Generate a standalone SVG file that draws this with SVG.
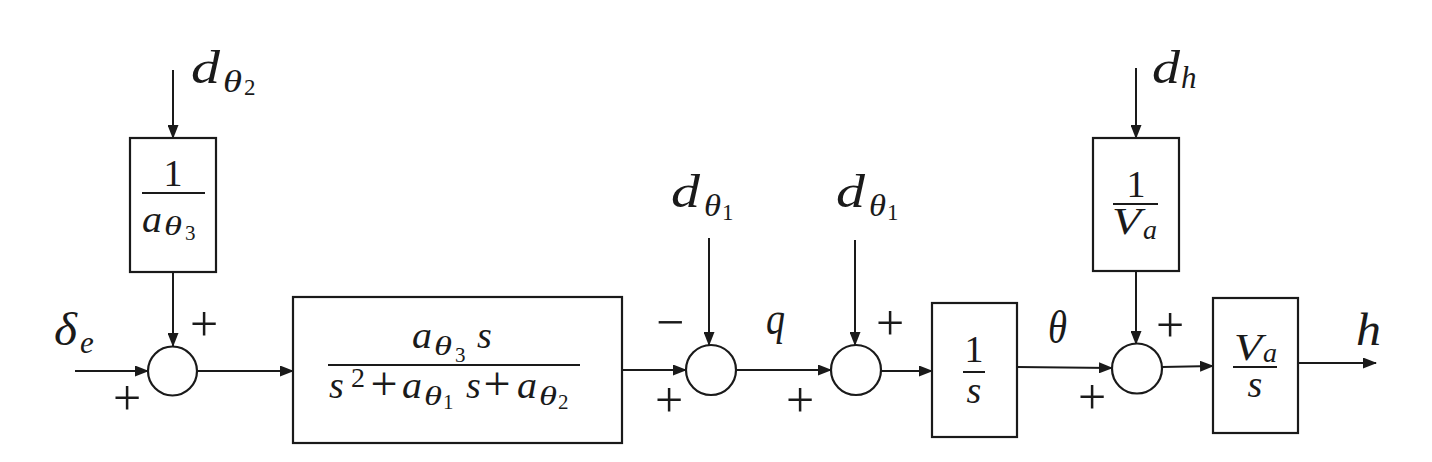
<svg xmlns="http://www.w3.org/2000/svg" width="1432" height="462" viewBox="0 0 1432 462">
<style>
.bg{fill:#fff}
.box{fill:#fff;stroke:#1a1a1a;stroke-width:2.2}
.sum{fill:#fff;stroke:#1a1a1a;stroke-width:2.2}
.frac{stroke:#1a1a1a;stroke-width:2}
.conn{stroke:#1a1a1a;stroke-width:2;fill:none;marker-end:url(#arr)}
text{font-family:"Liberation Serif","Times New Roman",serif;fill:#1a1a1a}
.it{font-style:italic}
.rm{font-style:normal}
.lbl{font-size:46px}
.sub{font-size:31px}
.ss{font-size:23px}
.fr{font-size:38px}
.fsub{font-size:28px}
.fss{font-size:21px}
.fp{font-size:48px;text-anchor:middle}
.sgn{font-size:50px;text-anchor:middle}
</style>
<defs>
<marker id="arr" markerUnits="userSpaceOnUse" markerWidth="14" markerHeight="11" refX="13" refY="5.5" orient="auto">
<path d="M0,0 L14,5.5 L0,11 z" fill="#1a1a1a"/>
</marker>
</defs>
<rect class="bg" x="0" y="0" width="1432" height="462"/>

<g id="connectors">
<line class="conn" x1="173" y1="70" x2="173" y2="138"/>
<line class="conn" x1="173" y1="272" x2="173" y2="346"/>
<line class="conn" x1="75" y1="371" x2="148" y2="371"/>
<line class="conn" x1="197" y1="371" x2="293" y2="371"/>
<line class="conn" x1="622" y1="370" x2="686" y2="370"/>
<line class="conn" x1="709" y1="238" x2="709" y2="345"/>
<line class="conn" x1="736" y1="370" x2="831" y2="370"/>
<line class="conn" x1="855" y1="240" x2="855" y2="345"/>
<line class="conn" x1="881" y1="371" x2="932" y2="371"/>
<line class="conn" x1="1017" y1="367" x2="1112" y2="368"/>
<line class="conn" x1="1136" y1="68" x2="1136" y2="138"/>
<line class="conn" x1="1136" y1="271" x2="1136" y2="344"/>
<line class="conn" x1="1162" y1="367" x2="1213" y2="366"/>
<line class="conn" x1="1298" y1="363" x2="1376" y2="363"/>
</g>

<g id="box-inv-a3">
<rect class="box" x="130" y="138" width="86" height="134"/>
<text class="fr rm" x="173" y="186" text-anchor="middle">1</text>
<line class="frac" x1="142" y1="193" x2="205" y2="193"/>
<text class="fr it" x="142" y="232" textLength="20" lengthAdjust="spacingAndGlyphs">a</text>
<text class="fsub it" x="164" y="235" textLength="18" lengthAdjust="spacingAndGlyphs">θ</text>
<text class="fss rm" x="185" y="240">3</text>
</g>

<g id="box-plant">
<rect class="box" x="293" y="297" width="329" height="146"/>
<text class="fr it" x="412" y="348" textLength="20" lengthAdjust="spacingAndGlyphs">a</text>
<text class="fsub it" x="434" y="355" textLength="18" lengthAdjust="spacingAndGlyphs">θ</text>
<text class="fss rm" x="455" y="362">3</text>
<text class="fr it" x="477" y="348">s</text>
<line class="frac" x1="328" y1="365" x2="580" y2="365"/>
<text class="fr it" x="329" y="398">s</text>
<text class="fsub rm" x="351" y="387">2</text>
<text class="fp rm" x="384" y="400">+</text>
<text class="fr it" x="402" y="398" textLength="20" lengthAdjust="spacingAndGlyphs">a</text>
<text class="fsub it" x="424" y="405" textLength="18" lengthAdjust="spacingAndGlyphs">θ</text>
<text class="fss rm" x="443" y="409">1</text>
<text class="fr it" x="466" y="398">s</text>
<text class="fp rm" x="497" y="400">+</text>
<text class="fr it" x="517" y="398" textLength="20" lengthAdjust="spacingAndGlyphs">a</text>
<text class="fsub it" x="539" y="405" textLength="18" lengthAdjust="spacingAndGlyphs">θ</text>
<text class="fss rm" x="558" y="409">2</text>
</g>

<g id="box-int">
<rect class="box" x="932" y="303" width="85" height="134"/>
<text class="fr rm" x="974" y="362" text-anchor="middle">1</text>
<line class="frac" x1="963" y1="372" x2="985" y2="372"/>
<text class="fr it" x="974" y="403" text-anchor="middle">s</text>
</g>

<g id="box-inv-va">
<rect class="box" x="1093" y="138" width="86" height="133"/>
<text class="fr rm" x="1136" y="197" text-anchor="middle">1</text>
<line class="frac" x1="1113" y1="204" x2="1158" y2="204"/>
<text class="fr it" x="1112" y="234" textLength="29" lengthAdjust="spacingAndGlyphs">V</text>
<text class="fsub it" x="1143" y="239">a</text>
</g>

<g id="box-va-s">
<rect class="box" x="1213" y="298" width="85" height="135"/>
<text class="fr it" x="1234" y="360" textLength="28" lengthAdjust="spacingAndGlyphs">V</text>
<text class="fsub it" x="1263" y="362">a</text>
<line class="frac" x1="1233" y1="367" x2="1277" y2="367"/>
<text class="fr it" x="1255" y="397" text-anchor="middle">s</text>
</g>

<g id="sum1">
<circle class="sum" cx="172.5" cy="371" r="24.5"/>
<text class="sgn rm" x="204" y="341">+</text>
<text class="sgn rm" x="127" y="415">+</text>
</g>
<g id="sum2">
<circle class="sum" cx="711" cy="370" r="25"/>
<text class="sgn rm" x="670" y="339">−</text>
<text class="sgn rm" x="669" y="417">+</text>
</g>
<g id="sum3">
<circle class="sum" cx="856" cy="370" r="25"/>
<text class="sgn rm" x="890" y="340">+</text>
<text class="sgn rm" x="800" y="417">+</text>
</g>
<g id="sum4">
<circle class="sum" cx="1137" cy="368.5" r="25"/>
<text class="sgn rm" x="1170" y="342">+</text>
<text class="sgn rm" x="1092" y="414">+</text>
</g>

<g id="labels">
<text class="lbl it" x="54" y="345" textLength="23" lengthAdjust="spacingAndGlyphs">δ</text>
<text class="sub it" x="80" y="353">e</text>

<text class="lbl it" x="191" y="83" textLength="29" lengthAdjust="spacingAndGlyphs">d</text>
<text class="sub it" x="223" y="92" textLength="19" lengthAdjust="spacingAndGlyphs">θ</text>
<text class="ss rm" x="244" y="95">2</text>

<text class="lbl it" x="671" y="207" textLength="29" lengthAdjust="spacingAndGlyphs">d</text>
<text class="sub it" x="704" y="216" textLength="17" lengthAdjust="spacingAndGlyphs">θ</text>
<text class="ss rm" x="722" y="220">1</text>

<text class="lbl it" x="836" y="207" textLength="29" lengthAdjust="spacingAndGlyphs">d</text>
<text class="sub it" x="869" y="216" textLength="17" lengthAdjust="spacingAndGlyphs">θ</text>
<text class="ss rm" x="887" y="220">1</text>

<text class="lbl it" x="1152" y="83" textLength="28" lengthAdjust="spacingAndGlyphs">d</text>
<text class="sub it" x="1181" y="88">h</text>

<text class="lbl it" x="766" y="334" textLength="19" lengthAdjust="spacingAndGlyphs">q</text>
<text class="lbl it" x="1048" y="343" textLength="19" lengthAdjust="spacingAndGlyphs">θ</text>
<text class="lbl it" x="1356" y="345" textLength="25" lengthAdjust="spacingAndGlyphs">h</text>
</g>
</svg>
